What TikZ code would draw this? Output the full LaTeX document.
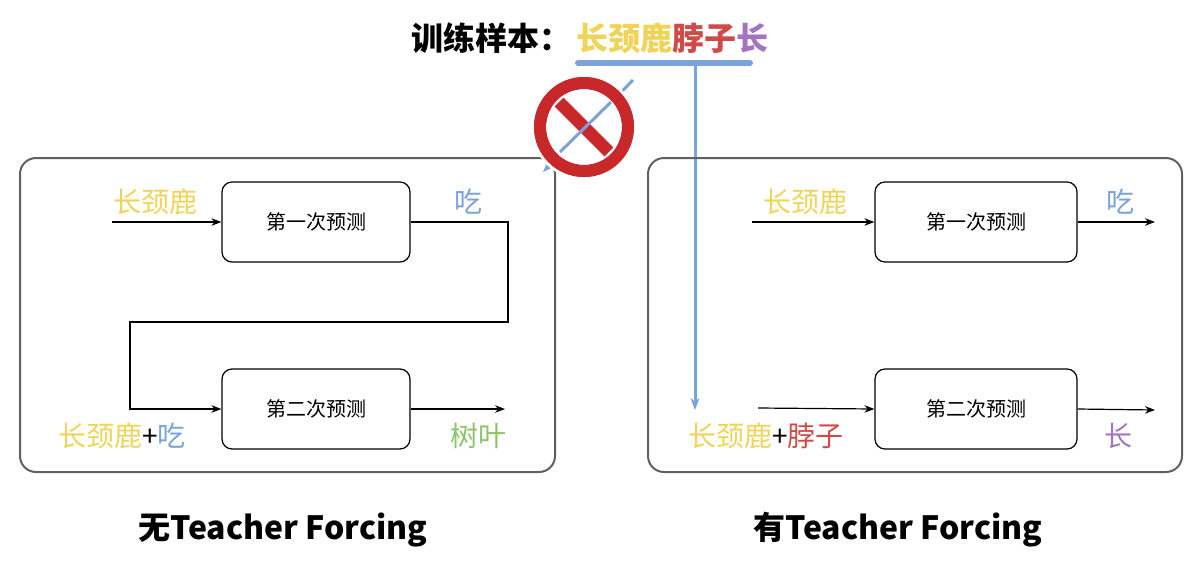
\documentclass[tikz,border=0pt]{standalone}
\usepackage{fontspec}
\setmainfont{Noto Sans CJK SC}
\usetikzlibrary{arrows.meta}
\definecolor{yel}{HTML}{F0D45A}
\definecolor{red1}{HTML}{D04A48}
\definecolor{sign}{HTML}{C8282A}
\definecolor{pur}{HTML}{A374C4}
\definecolor{blu}{HTML}{7BA3DA}
\definecolor{grn}{HTML}{8CC46A}
\definecolor{gbox}{HTML}{606060}
\tikzset{
  outer/.style={draw=gbox,line width=1pt,rounded corners=8pt},
  stagebox/.style={draw=black,line width=0.6pt,rounded corners=5pt,minimum height=40pt,font=\fontsize{10}{12}\selectfont},
  lab/.style={font=\fontsize{14}{16}\selectfont,inner sep=0pt},
  arr/.style={-{Stealth[length=5pt]},line width=0.6pt},
}
\begin{document}
\begin{tikzpicture}[x=0.5pt,y=-0.5pt]
\useasboundingbox (0,0) rectangle (1200,574);
% title
\node[lab,font=\bfseries\fontsize{16}{18}\selectfont,anchor=east] (t1) at (572,38) {训练样本：};
\node[lab,font=\bfseries\fontsize{16}{18}\selectfont,anchor=west] (t2) at (576,38) {\textcolor{yel}{长颈鹿}\textcolor{red1}{脖子}\textcolor{pur}{长}};
\coordinate (ul1) at (578,63); \coordinate (ul2) at (750,63);
\draw[blu,line width=3pt,line cap=round] (ul1) -- (ul2);
\coordinate (vtop) at (695,63); \coordinate (vbot) at (695,410);
\draw[blu,line width=1.5pt,-{Stealth[length=6pt]}] (vtop) -- (vbot);
% outer boxes
\draw[outer] (20,158) rectangle (555,472);
\draw[outer] (648,158) rectangle (1182,472);
% blocked arrow with prohibition sign
\coordinate (ba1) at (633,80); \coordinate (ba2) at (543,172);
\draw[blu,line width=1.5pt,-{Stealth[length=6pt]}] (ba1) -- (ba2);
\coordinate (sg) at (584,127);
\fill[white] (sg) circle[radius=53];
\fill[sign] (sg) circle[radius=50];
\fill[white] (sg) circle[radius=38];
\begin{scope}[shift={(584,127)},rotate=-45]
\filldraw[fill=sign,draw=white,line width=1.5pt] (-37,-8) rectangle (37,8);
\end{scope}
\fill[sign,even odd rule] (sg) circle[radius=50] circle[radius=38];
\draw[blu,line width=1.5pt] (611,102) -- (560,152);
% left panel
\node[stagebox,minimum width=94pt] (l1) at (316,222) {第一次预测};
\node[stagebox,minimum width=94pt] (l2) at (316,409) {第二次预测};
\coordinate (lin) at (112,222);
\draw[arr] (lin) -- (l1.west);
\node[lab,text=yel] (la) at (155,202) {长颈鹿};
\node[lab,text=blu] (lb) at (468,202) {吃};
\draw[line width=0.6pt,-{Stealth[length=5pt]}] (l1.east) -- (508,222) -- (508,322) -- (130,322) -- (130,409) -- (l2.west);
\coordinate (lout) at (505,409);
\draw[arr] (l2.east) -- (lout);
\node[lab] (lc) at (122,436) {\textcolor{yel}{长颈鹿}+\textcolor{blu}{吃}};
\node[lab,text=grn] (ld) at (478,436) {树叶};
% right panel
\node[stagebox,minimum width=101pt] (r1) at (976,222) {第一次预测};
\node[stagebox,minimum width=101pt] (r2) at (976,409) {第二次预测};
\coordinate (rin) at (752,222); \coordinate (rout) at (1155,222);
\draw[arr] (rin) -- (r1.west);
\draw[arr] (r1.east) -- (rout);
\node[lab,text=yel] (ra) at (805,202) {长颈鹿};
\node[lab,text=blu] (rb) at (1120,202) {吃};
\coordinate (rin2) at (758,408); \coordinate (rout2) at (1155,410);
\draw[arr] (rin2) -- (r2.west);
\draw[arr] (r2.east) -- (rout2);
\node[lab] (rc) at (766,436) {\textcolor{yel}{长颈鹿}+\textcolor{red1}{脖子}};
\node[lab,text=pur] (rd) at (1118,436) {长};
% captions
\node[lab,font=\bfseries\fontsize{16}{18}\selectfont] (c1) at (283,530) {无Teacher Forcing};
\node[lab,font=\bfseries\fontsize{16}{18}\selectfont] (c2) at (898,530) {有Teacher Forcing};
\end{tikzpicture}
\end{document}
